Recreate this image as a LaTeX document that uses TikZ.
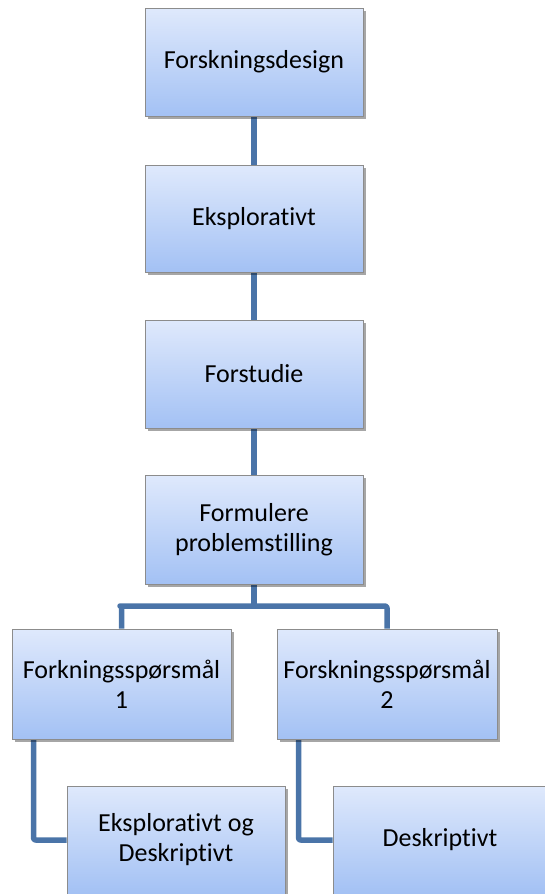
\documentclass[tikz,border=0pt]{standalone}
\usepackage{fontspec}
\setmainfont{Carlito}[Ligatures=CommonOff]
\usetikzlibrary{shadows,backgrounds}
\definecolor{boxtop}{HTML}{DFE9FC}
\definecolor{boxbot}{HTML}{A3C1F4}
\definecolor{boxline}{HTML}{8C8C8C}
\definecolor{conn}{HTML}{4A74A8}
\tikzset{
  box/.style={rectangle, draw=boxline, line width=0.8pt, top color=boxtop, bottom color=boxbot,
    align=center, font=\fontsize{26}{30}\selectfont, inner sep=2pt,
    drop shadow={shadow xshift=2.5pt, shadow yshift=-2.5pt, opacity=0.35, fill=black}},
  lbl/.style={align=center, font=\fontsize{26}{30}\selectfont, inner sep=0pt},
  link/.style={draw=conn, line width=5.5pt, line join=round, rounded corners=2pt}
}
\begin{document}
\begin{tikzpicture}[x=1pt,y=-1pt]
\useasboundingbox (0,0) rectangle (545,894);
\clip (0,0) rectangle (545,894);
\node[box, minimum width=218pt, minimum height=108pt] (a) at (254,62) {Forskningsdesign};
\node[box, minimum width=218pt, minimum height=107pt] (b) at (254,218.5) {Eksplorativt};
\node[box, minimum width=218pt, minimum height=108pt] (c) at (254,374) {Forstudie};
\node[box, minimum width=218pt, minimum height=109pt] (d) at (254,529.5) {Formulere\\problemstilling};
\node[box, minimum width=219pt, minimum height=110pt] (e) at (121.5,684) {Forkningsspørsmål\\1};
\node[box, minimum width=220pt, minimum height=110pt] (f) at (387,684) {Forskningsspørsmål\\2};
\node[box, minimum width=218pt, minimum height=108pt] (g) at (176,840) {};
\node[box, minimum width=220pt, minimum height=108pt] (h) at (443,840) {};
\node[lbl] (gt) at (g.center) {Eksplorativt og\\Deskriptivt};
\node[lbl] (ht) at (440,840) {Deskriptivt};
\coordinate (jl) at (122,606);
\begin{pgfonlayer}{background}
\draw[link] (a.south) -- (b.north);
\draw[link] (b.south) -- (c.north);
\draw[link] (c.south) -- (d.north);
\draw[link] (d.south) -- (d.south |- jl);
\draw[link] (e.north) |- (jl) -| (f.north);
\draw[link] ([xshift=22pt]e.south west) |- (g.west);
\draw[link] ([xshift=22pt]f.south west) |- (h.west);
\end{pgfonlayer}
\end{tikzpicture}
\end{document}
